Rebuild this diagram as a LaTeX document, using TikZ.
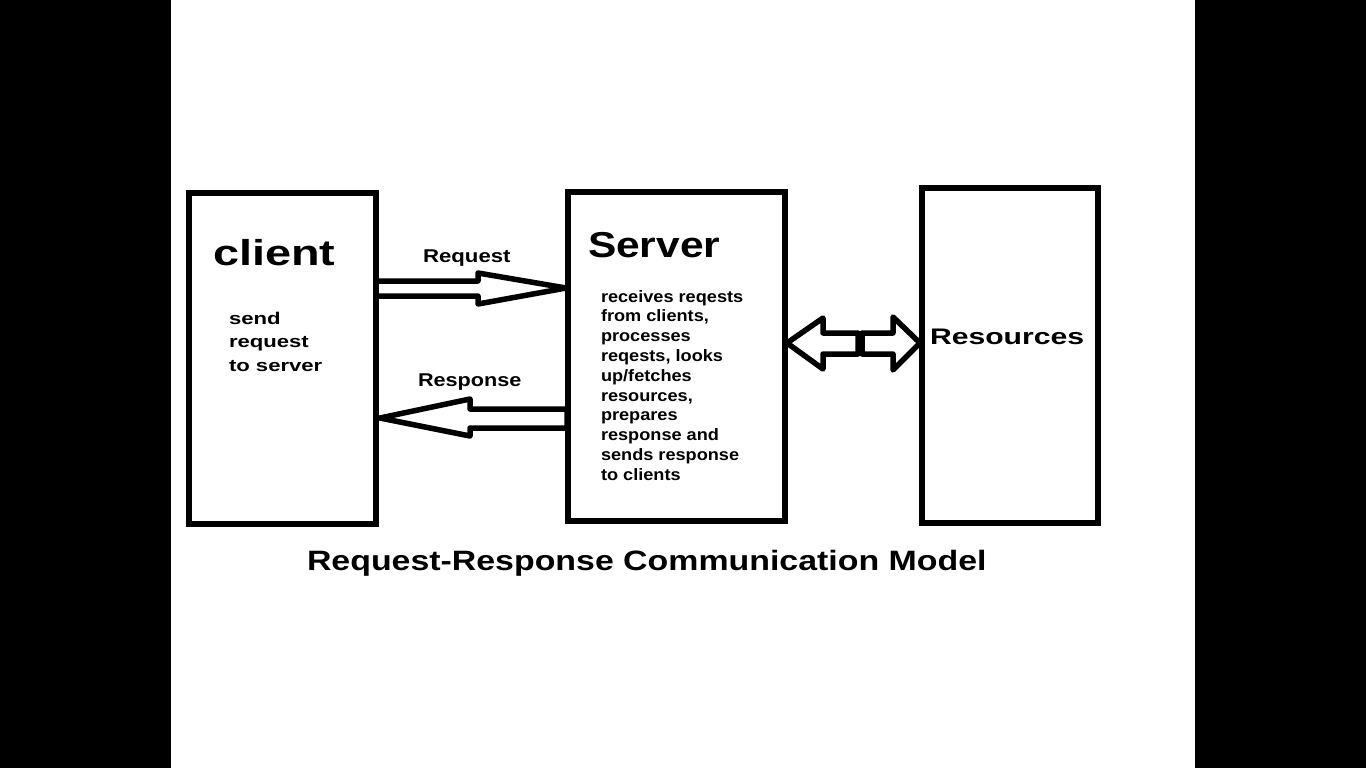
\documentclass[tikz,border=0pt]{standalone}
\usepackage{fontspec}
\setmainfont{Liberation Sans}
\usepackage{graphicx}
\newcommand\wtxt[3]{\scalebox{#1}[1]{\fontsize{#2}{#2}\selectfont\bfseries #3}}
\begin{document}
\begin{tikzpicture}[x=1pt,y=-1pt,
  box/.style={draw=black,line width=5.5pt,fill=white,inner sep=0pt,outer sep=0pt,anchor=north west},
  blockarrow/.style={draw=black,line width=5.5pt,fill=white,line join=round},
  lbl/.style={inner sep=0pt,outer sep=0pt,anchor=base west,text=black}]
\useasboundingbox (0,0) rectangle (1366,768);
\fill[white] (0,0) rectangle (1366,768);
\fill[black] (0,0) rectangle (171,768);
\fill[black] (1195,0) rectangle (1366,768);

% boxes
\node[box,minimum width=187pt,minimum height=331pt] (client) at (189,193) {};
\node[box,minimum width=217pt,minimum height=329pt] (server) at (568,192) {};
\node[box,minimum width=176pt,minimum height=335pt] (res) at (922,188) {};

% request arrow
\draw[blockarrow] (376,281) -- (478,281) -- (478,273) -- (566,288) -- (478,304) -- (478,296) -- (376,296) -- cycle;
% response arrow
\draw[blockarrow] (567,409) -- (470,409) -- (470,399) -- (380,418) -- (470,436) -- (470,428) -- (567,428) -- cycle;
% double arrow server <-> resources
\draw[blockarrow] (858,333) -- (823,333) -- (823,318) -- (787,343) -- (823,369) -- (823,354) -- (858,354) -- cycle;
\draw[blockarrow] (862,333) -- (893,333) -- (893,317) -- (920,343) -- (893,370) -- (893,354) -- (862,354) -- cycle;

% texts
\node[lbl] (clientT) at (213,265) {\wtxt{1.3}{36}{client}};
\node[lbl] (clientB) at (229,324) {\scalebox{1.3}[1]{\fontsize{17}{23.5}\selectfont\bfseries
  \begin{tabular}[t]{@{}l@{}}send\\request\\to server\end{tabular}}};
\node[lbl] (reqT) at (423,262) {\wtxt{1.2}{18.5}{Request}};
\node[lbl] (respT) at (418,386) {\wtxt{1.17}{18.5}{Response}};
\node[lbl] (serverT) at (588,257) {\wtxt{1.18}{36}{Server}};
\node[lbl] (serverB) at (601,302) {\scalebox{1.1}[1]{\fontsize{16.5}{19.8}\selectfont\bfseries
  \begin{tabular}[t]{@{}l@{}}receives reqests\\from clients,\\processes\\reqests, looks\\up/fetches\\resources,\\prepares\\response and\\sends response\\to clients\end{tabular}}};
\node[lbl] (resT) at (930,344) {\wtxt{1.34}{22.5}{Resources}};
\node[lbl] (title) at (307,570) {\wtxt{1.21}{28}{Request-Response Communication Model}};
\end{tikzpicture}
\end{document}
